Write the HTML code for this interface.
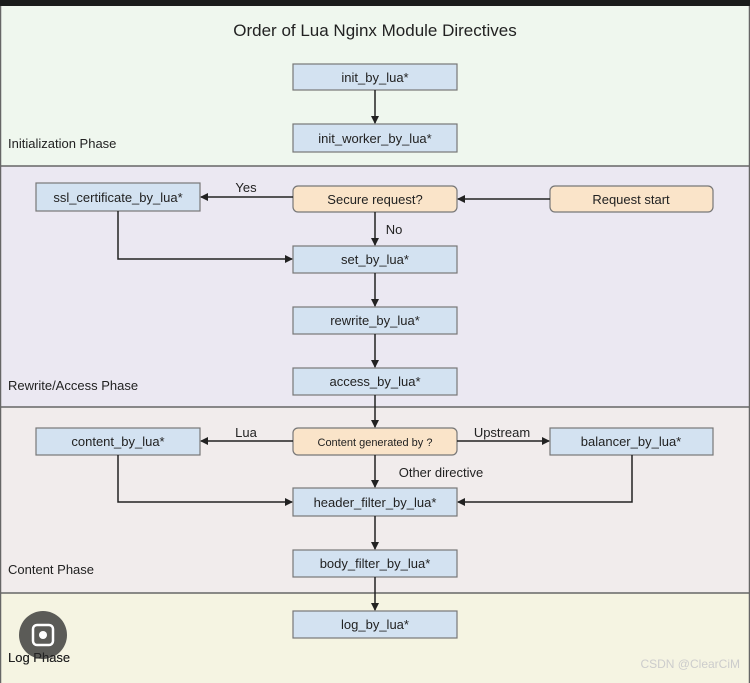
<!DOCTYPE html>
<html><head><meta charset="utf-8"><style>
html,body{margin:0;padding:0;background:#111;}
svg{display:block;font-family:"Liberation Sans",sans-serif;}
</style></head><body>
<svg width="750" height="683" viewBox="0 0 750 683" xmlns="http://www.w3.org/2000/svg">
<defs><marker id="a" markerWidth="8" markerHeight="8" refX="7" refY="4" orient="auto" markerUnits="userSpaceOnUse"><path d="M0,0 L8,4 L0,8 z" fill="#222"/></marker></defs>
<rect x="0" y="0" width="750" height="6" fill="#1a1c1b"/>
<rect x="0" y="6" width="750" height="160" fill="#eff7ee"/>
<rect x="0" y="166" width="750" height="241" fill="#ebe8f2"/>
<rect x="0" y="407" width="750" height="186" fill="#f1ecec"/>
<rect x="0" y="593" width="750" height="90" fill="#f5f4e2"/>
<g stroke="#666" stroke-width="1.5"><line x1="0" y1="166" x2="750" y2="166"/><line x1="0" y1="407" x2="750" y2="407"/><line x1="0" y1="593" x2="750" y2="593"/><line x1="0.5" y1="6" x2="0.5" y2="683"/><line x1="749.5" y1="6" x2="749.5" y2="683"/></g>
<text x="375" y="36" font-size="17" text-anchor="middle" fill="#222">Order of Lua Nginx Module Directives</text>
<g font-size="13" fill="#222">
<text x="8" y="148">Initialization Phase</text>
<text x="8" y="390">Rewrite/Access Phase</text>
<text x="8" y="574">Content Phase</text>
<text x="8" y="662">Log Phase</text>
</g>
<g stroke="#777" stroke-width="1.2" fill="#d3e2f1">
<rect x="293" y="64" width="164" height="26"/>
<rect x="293" y="124" width="164" height="28"/>
<rect x="36" y="183" width="164" height="28"/>
<rect x="293" y="246" width="164" height="27"/>
<rect x="293" y="307" width="164" height="27"/>
<rect x="293" y="368" width="164" height="27"/>
<rect x="36" y="428" width="164" height="27"/>
<rect x="550" y="428" width="163" height="27"/>
<rect x="293" y="488" width="164" height="28"/>
<rect x="293" y="550" width="164" height="27"/>
<rect x="293" y="611" width="164" height="27"/>
</g>
<g stroke="#777" stroke-width="1.2" fill="#fae4c9">
<rect x="293" y="186" width="164" height="26" rx="5"/>
<rect x="550" y="186" width="163" height="26" rx="5"/>
<rect x="293" y="428" width="164" height="27" rx="5"/>
</g>
<g font-size="13" fill="#222" text-anchor="middle">
<text x="375" y="82">init_by_lua*</text>
<text x="375" y="143">init_worker_by_lua*</text>
<text x="118" y="202">ssl_certificate_by_lua*</text>
<text x="375" y="204">Secure request?</text>
<text x="631" y="204">Request start</text>
<text x="375" y="264">set_by_lua*</text>
<text x="375" y="325">rewrite_by_lua*</text>
<text x="375" y="386">access_by_lua*</text>
<text x="118" y="446">content_by_lua*</text>
<text x="375" y="446" font-size="11">Content generated by ?</text>
<text x="631" y="446">balancer_by_lua*</text>
<text x="375" y="507">header_filter_by_lua*</text>
<text x="375" y="568">body_filter_by_lua*</text>
<text x="375" y="629">log_by_lua*</text>
<text x="246" y="192">Yes</text>
<text x="394" y="234">No</text>
<text x="246" y="437">Lua</text>
<text x="502" y="437">Upstream</text>
<text x="441" y="477">Other directive</text>
</g>
<g stroke="#222" stroke-width="1.5" fill="none" marker-end="url(#a)">
<line x1="375" y1="90" x2="375" y2="123"/>
<line x1="550" y1="199" x2="458" y2="199"/>
<line x1="293" y1="197" x2="201" y2="197"/>
<line x1="375" y1="212" x2="375" y2="245"/>
<polyline points="118,211 118,259 292,259"/>
<line x1="375" y1="273" x2="375" y2="306"/>
<line x1="375" y1="334" x2="375" y2="367"/>
<line x1="375" y1="395" x2="375" y2="427"/>
<line x1="293" y1="441" x2="201" y2="441"/>
<line x1="457" y1="441" x2="549" y2="441"/>
<line x1="375" y1="455" x2="375" y2="487"/>
<polyline points="118,455 118,502 292,502"/>
<polyline points="632,455 632,502 458,502"/>
<line x1="375" y1="516" x2="375" y2="549"/>
<line x1="375" y1="577" x2="375" y2="610"/>
</g>
<circle cx="43" cy="635" r="24" fill="#4a4a48" opacity="0.9"/>
<rect x="33" y="625" width="20" height="20" rx="4" fill="none" stroke="#fff" stroke-width="2.5"/>
<circle cx="43" cy="635" r="4" fill="#fff"/>
<text x="8" y="662" font-size="13" fill="#222">Log Phase</text>
<text x="740" y="668" font-size="12" fill="#ccc" text-anchor="end">CSDN @ClearCiM</text>
</svg>
</body></html>
